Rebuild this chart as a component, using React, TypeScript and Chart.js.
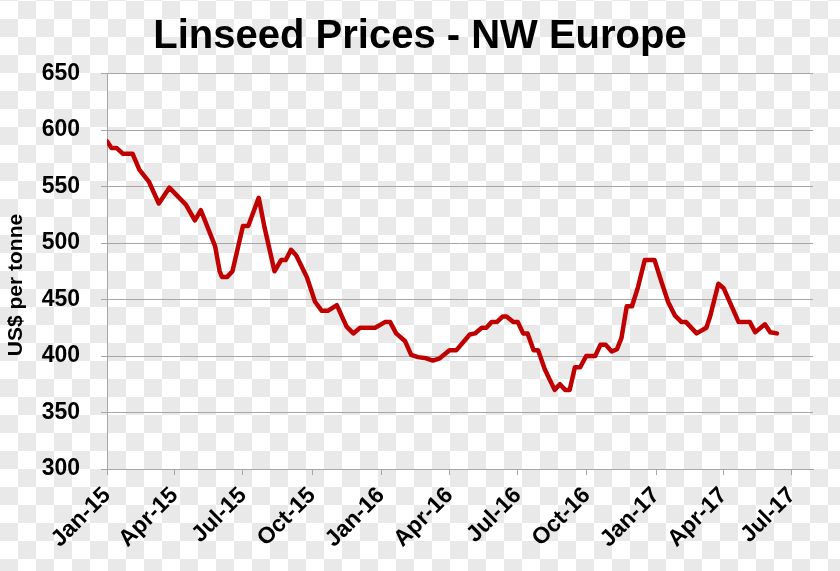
import React, { useEffect, useRef } from "react";
import { Chart, registerables } from "chart.js";

Chart.register(...registerables);

const titleText = "Linseed Prices - NW Europe";
const yAxisTitle = "US$ per tonne";

const priceDates = [
  "2015-01-01", "2015-01-07", "2015-01-14", "2015-01-22", "2015-02-04", "2015-02-13",
  "2015-02-26", "2015-03-11", "2015-03-25", "2015-04-16", "2015-04-28", "2015-05-06",
  "2015-05-25", "2015-05-31", "2015-06-03", "2015-06-10", "2015-06-17", "2015-07-01",
  "2015-07-08", "2015-07-22", "2015-07-30", "2015-08-12", "2015-08-21", "2015-08-27",
  "2015-09-03", "2015-09-10", "2015-09-24", "2015-10-05", "2015-10-14", "2015-10-22",
  "2015-11-03", "2015-11-16", "2015-11-25", "2015-12-04", "2015-12-24", "2016-01-06",
  "2016-01-13", "2016-01-21", "2016-02-02", "2016-02-10", "2016-02-19", "2016-03-01",
  "2016-03-10", "2016-03-19", "2016-04-01", "2016-04-10", "2016-04-28", "2016-05-05",
  "2016-05-14", "2016-05-20", "2016-05-27", "2016-06-03", "2016-06-11", "2016-06-16",
  "2016-06-25", "2016-07-01", "2016-07-08", "2016-07-14", "2016-07-22", "2016-07-28",
  "2016-08-06", "2016-08-19", "2016-08-26", "2016-09-02", "2016-09-08", "2016-09-15",
  "2016-09-22", "2016-09-30", "2016-10-12", "2016-10-19", "2016-10-26", "2016-11-03",
  "2016-11-10", "2016-11-16", "2016-11-23", "2016-11-30", "2016-12-08", "2016-12-17",
  "2016-12-30", "2017-01-09", "2017-01-17", "2017-01-26", "2017-02-04", "2017-02-10",
  "2017-02-24", "2017-03-09", "2017-03-14", "2017-03-25", "2017-04-01", "2017-04-21",
  "2017-05-06", "2017-05-13", "2017-05-26", "2017-06-02", "2017-06-11",
];

const prices = [
  590, 584, 584, 579, 579, 565,
  554, 535, 549, 534, 520, 529,
  497, 475, 470, 470, 475, 515,
  515, 540, 513, 475, 485, 485,
  494, 489, 470, 448, 440, 440,
  445, 426, 420, 425, 425, 430,
  430, 420, 413, 401, 399, 398,
  396, 398, 405, 405, 419, 420,
  425, 425, 430, 430, 435, 435,
  430, 430, 420, 420, 405, 405,
  388, 370, 375, 370, 370, 390,
  390, 400, 400, 410, 410, 404,
  406, 416, 444, 444, 461, 485,
  485, 464, 448, 436, 430, 430,
  420, 425, 435, 464, 460, 430,
  430, 421, 428, 421, 420,
];

const tickDates = [
  "2015-01-01", "2015-04-01", "2015-07-01", "2015-10-01", "2016-01-01", "2016-04-01",
  "2016-07-01", "2016-10-01", "2017-01-01", "2017-04-01", "2017-07-01",
];
const tickLabels = [
  "Jan-15", "Apr-15", "Jul-15", "Oct-15", "Jan-16", "Apr-16",
  "Jul-16", "Oct-16", "Jan-17", "Apr-17", "Jul-17",
];
const axisStartDate = "2015-01-01";
const axisEndDate = "2017-07-29";
const yMin = 300;
const yMax = 650;
const yStep = 50;

function toDays(s: string): number {
  const [y, m, d] = s.split("-").map(Number);
  const [y0, m0, d0] = axisStartDate.split("-").map(Number);
  return (Date.UTC(y, m - 1, d) - Date.UTC(y0, m0 - 1, d0)) / 86400000;
}

const FONT = "'Liberation Sans', Arial, sans-serif";

const textPlugin = {
  id: "textPlugin",
  afterDraw(chart: any) {
    const ctx = chart.ctx;
    ctx.save();
    ctx.font = `bold 40px ${FONT}`;
    ctx.fillStyle = "#000";
    ctx.textAlign = "center";
    ctx.textBaseline = "alphabetic";
    ctx.fillText(titleText, 420, 48);
    ctx.restore();

    ctx.save();
    ctx.translate(16, 285);
    ctx.rotate(-Math.PI / 2);
    ctx.font = `bold 21px ${FONT}`;
    ctx.fillStyle = "#000";
    ctx.textAlign = "center";
    ctx.textBaseline = "middle";
    ctx.fillText(yAxisTitle, 0, 0);
    ctx.restore();
  },
};

export default function App() {
  const ref = useRef<HTMLCanvasElement | null>(null);

  useEffect(() => {
    if (!ref.current) return;
    const tickValues = tickDates.map(toDays);
    const labelMap: Record<number, string> = {};
    tickValues.forEach((v, i) => (labelMap[v] = tickLabels[i]));
    const gridColor = "#a6a6a6";

    const chart = new Chart(ref.current, {
      type: "line",
      data: {
        datasets: [
          {
            data: priceDates.map((d, i) => ({ x: toDays(d), y: prices[i] })),
            borderColor: "#c00000",
            borderWidth: 4.5,
            pointRadius: 0,
            tension: 0,
            fill: false,
            borderJoinStyle: "round",
            borderCapStyle: "round",
          },
        ],
      },
      plugins: [textPlugin],
      options: {
        animation: false,
        responsive: false,
        layout: { padding: { left: 0, right: 27, top: 73.5, bottom: 0 } },
        plugins: {
          legend: { display: false },
          tooltip: { enabled: false },
          title: { display: false },
        },
        scales: {
          x: {
            type: "linear",
            min: toDays(axisStartDate),
            max: toDays(axisEndDate),
            afterBuildTicks: (scale: any) => {
              scale.ticks = tickValues.map((v) => ({ value: v }));
            },
            afterFit: (scale: any) => {
              scale.height = 102;
            },
            ticks: {
              autoSkip: false,
              maxRotation: 45,
              minRotation: 45,
              padding: 7,
              color: "#000",
              font: { family: FONT, size: 23, weight: "bold" },
              callback: (v: any) => labelMap[v as number] ?? "",
            },
            grid: {
              display: true,
              drawOnChartArea: false,
              drawTicks: true,
              tickLength: 6,
              color: gridColor,
            },
            border: { display: true, color: gridColor, width: 1 },
          },
          y: {
            type: "linear",
            min: yMin,
            max: yMax,
            afterFit: (scale: any) => {
              scale.width = 107;
            },
            ticks: {
              stepSize: yStep,
              padding: 21,
              color: "#000",
              font: { family: FONT, size: 23, weight: "bold" },
            },
            grid: {
              color: gridColor,
              lineWidth: 1,
              drawTicks: true,
              tickLength: 6,
            },
            border: { display: true, color: gridColor, width: 1 },
          },
        },
      },
    });
    return () => chart.destroy();
  }, []);

  return (
    <div
      style={{
        position: "absolute",
        left: 0,
        top: 0,
        width: 840,
        height: 571,
        backgroundColor: "#ffffff",
        backgroundImage:
          "conic-gradient(#e9e9e9 0 25%, #ffffff 0 50%, #e9e9e9 0 75%, #ffffff 0)",
        backgroundSize: "36px 36px",
        backgroundPosition: "0px 1px",
      }}
    >
      <canvas ref={ref} width={840} height={571} style={{ display: "block" }} />
    </div>
  );
}
